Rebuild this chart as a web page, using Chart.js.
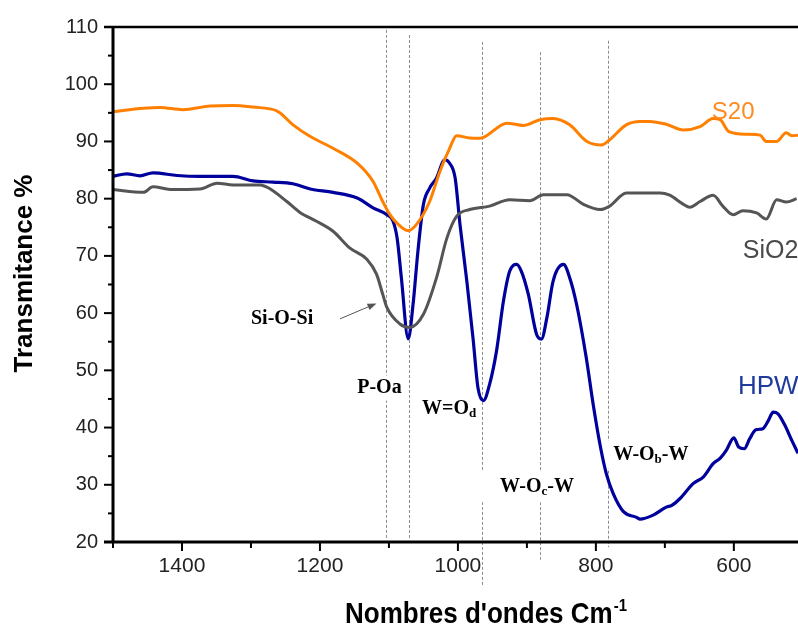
<!DOCTYPE html>
<html>
<head>
<meta charset="utf-8">
<title>Spectres IR - HPW, SiO2, S20</title>
<script src="https://cdn.jsdelivr.net/npm/chart.js@4.4.1/dist/chart.umd.min.js"></script>
<style>
html,body{margin:0;padding:0;background:#fff}
canvas{display:block}
</style>
</head>
<body>
<canvas id="irChart" width="798" height="628"></canvas>
<script>
/* ====================================
   DATA
==================================== */

// S20 (orange)
const s20Wn=[1500,1456,1432,1399,1359,1326,1297,1262,1239,1214,1181,1146,1123,1109,1099,1089,1072,1060,1041,1026,1012,1002,983,968,929,905,881,862,838,813,792,780,756,736,722,698,673,649,630,620,607,582,562,553,538,524,516,507]
const s20T=[95.2,95.8,95.95,95.55,96.2,96.3,96.0,95.3,92.9,90.85,88.8,86.2,83.0,79.5,77.3,75.8,74.4,75.5,79.5,84.8,88.8,91.0,90.6,90.55,93.2,92.8,93.8,94.0,92.9,90.0,89.4,90.3,92.9,93.5,93.5,93.0,92.0,92.6,94.0,93.8,91.7,91.25,91.1,90.0,90.0,91.5,91.0,91.1]

// SiO2 (grey)
const sio2Wn=[1500,1456,1442,1417,1374,1349,1326,1287,1272,1248,1229,1205,1181,1157,1132,1118,1109,1103,1084,1070,1050,1031,1016,1002,983,954,925,896,876,842,818,794,780,756,741,707,693,673,664,649,630,616,601,587,567,553,538,524,509]
const sio2T=[81.6,81.1,82.1,81.6,81.7,82.7,82.4,82.4,81.7,79.5,77.6,76.05,74.3,71.4,69.4,66.8,63.3,61.0,58.1,57.5,59.8,66.2,73.1,76.9,78.1,78.7,79.8,79.65,80.7,80.7,79.0,78.1,78.7,81.0,81.0,81.0,80.6,79.0,78.5,79.5,80.6,78.7,77.2,77.9,77.5,76.45,79.8,79.4,80.0]

// HPW (dark blue)
const hpwWn=[1500,1480,1461,1442,1407,1374,1326,1297,1268,1239,1214,1181,1146,1123,1103,1094,1088,1082,1072,1065,1058,1050,1041,1031,1019,1012,1004,997,987,978,971,963,954,944,934,925,915,908,898,886,879,871,862,847,838,828,814,804,794,785,775,760,741,736,717,698,690,678,659,644,630,620,611,600,593,585,577,568,558,550,543,536,526,516,507]
const hpwT=[83.9,84.35,84.0,84.5,84.05,83.9,83.9,83.1,82.9,82.6,81.7,81.1,80.1,78.4,77.2,76.05,73.0,66.2,55.5,61.55,70.8,79.0,81.85,83.6,86.8,86.2,83.6,75.5,65.5,55.5,47.0,44.7,47.6,53.4,62.1,67.3,68.5,67.3,63.3,56.3,55.45,59.2,65.6,68.5,66.2,61.55,52.25,44.1,37.0,32.0,28.5,25.3,24.3,24.0,24.7,26.1,26.4,27.6,30.2,31.4,33.7,34.6,36.0,38.2,36.6,36.3,38.05,39.6,39.8,41.2,42.7,42.4,40.4,37.75,35.5]

// axis ticks
const xTicks=[1400,1200,1000,800,600]
const xMinorTicks=[1500,1300,1100,900,700]
const yTicks=[20,30,40,50,60,70,80,90,100,110]
const yMinorTicks=[25,35,45,55,65,75,85,95,105]

// band markers (wavenumber, top and bottom of dotted line in %)
const bandWn=[1104,1071,965,881,782]
const bandTop=[109.5,108.6,107.4,105.6,107.6]
const bandBottom=[20.7,20.7,12.2,16.9,19.1]

// series names
const seriesNames=["S20","SiO2","HPW"]



/* ====================================
   LABEL PLACEMENT (data coordinates)
==================================== */

const bandLabels=[
{parts:[["Si-O-Si",0]],wn:1300,t:58.1},
{parts:[["P-Oa",0]],wn:1146,t:46.1,box:[6,17,6,8]},
{parts:[["W=O",0],["d",1]],wn:1052,t:42.45},
{parts:[["W-O",0],["c",1],["-W",0]],wn:939,t:28.7,box:[24,21,6,10]},
{parts:[["W-O",0],["b",1],["-W",0]],wn:775,t:34.4,box:[9,19,6,9]}
]

const nameLabels=[
{wn:632,t:94.0,color:"#ff8a1f",size:24},
{wn:587,t:69.6,color:"#4a4a4a",size:25},
{wn:594,t:45.9,color:"#1f3b9b",size:26}
]

// arrow pointing at the Si-O-Si band
const arrowFrom={wn:1171,t:59.0}
const arrowTo={wn:1118,t:61.7}


function toPoints(xs,ys){
return xs.map((v,i)=>({x:v,y:ys[i]}))
}

const sansFont="'Liberation Sans', Arial, sans-serif"
const serifFont="'Liberation Serif', 'Times New Roman', serif"


/* draw text with subscripts */
function drawParts(ctx,parts,x,y){
let cx=x
parts.forEach(p=>{
if(p[1]){
ctx.font="bold 13px "+serifFont
ctx.fillText(p[0],cx,y+3)
}else{
ctx.font="bold 20px "+serifFont
ctx.fillText(p[0],cx,y)
}
cx+=ctx.measureText(p[0]).width
})
return cx-x
}

function measureParts(ctx,parts){
let w=0
parts.forEach(p=>{
ctx.font=(p[1]?"bold 13px ":"bold 20px ")+serifFont
w+=ctx.measureText(p[0]).width
})
return w
}



/* ====================================
   PLUGIN: band lines, labels, frame
==================================== */

const irPlugin={
id:"irDecor",

beforeDatasetsDraw(chart){
const ctx=chart.ctx
const x=chart.scales.x
const y=chart.scales.y

// dotted band lines
ctx.save()
ctx.strokeStyle="#8c8c8c"
ctx.lineWidth=1
ctx.setLineDash([3,2])
bandWn.forEach((wn,i)=>{
const px=Math.round(x.getPixelForValue(wn))+0.5
ctx.beginPath()
ctx.moveTo(px,y.getPixelForValue(bandTop[i]))
ctx.lineTo(px,y.getPixelForValue(bandBottom[i]))
ctx.stroke()
})
ctx.restore()

// white boxes behind band labels
ctx.save()
ctx.fillStyle="#fff"
bandLabels.forEach(l=>{
if(!l.box)return
const lx=x.getPixelForValue(l.wn)
const ly=y.getPixelForValue(l.t)
const w=measureParts(ctx,l.parts)
ctx.fillRect(lx-l.box[0],ly-l.box[1],w+l.box[0]+l.box[2],l.box[1]+l.box[3])
})
ctx.restore()
},

afterDatasetsDraw(chart){
const ctx=chart.ctx
const x=chart.scales.x
const y=chart.scales.y
const a=chart.chartArea

ctx.save()

// band labels
ctx.fillStyle="#000"
ctx.textBaseline="alphabetic"
ctx.textAlign="left"
bandLabels.forEach(l=>{
drawParts(ctx,l.parts,x.getPixelForValue(l.wn),y.getPixelForValue(l.t))
})

// arrow
const x1=x.getPixelForValue(arrowFrom.wn),y1=y.getPixelForValue(arrowFrom.t)
const x2=x.getPixelForValue(arrowTo.wn),y2=y.getPixelForValue(arrowTo.t)
const ang=Math.atan2(y2-y1,x2-x1)
ctx.strokeStyle="#555"
ctx.fillStyle="#555"
ctx.lineWidth=1
ctx.beginPath()
ctx.moveTo(x1,y1)
ctx.lineTo(x2-7*Math.cos(ang),y2-7*Math.sin(ang))
ctx.stroke()
ctx.beginPath()
ctx.moveTo(x2,y2)
ctx.lineTo(x2-9*Math.cos(ang)+3.5*Math.sin(ang),y2-9*Math.sin(ang)-3.5*Math.cos(ang))
ctx.lineTo(x2-9*Math.cos(ang)-3.5*Math.sin(ang),y2-9*Math.sin(ang)+3.5*Math.cos(ang))
ctx.closePath()
ctx.fill()

// series names
nameLabels.forEach((l,i)=>{
ctx.fillStyle=l.color
ctx.font=l.size+"px "+sansFont
ctx.fillText(seriesNames[i],x.getPixelForValue(l.wn),y.getPixelForValue(l.t))
})

// frame: left, bottom, top
ctx.strokeStyle="#000"
ctx.lineWidth=3
ctx.beginPath()
ctx.moveTo(a.left,a.top-1)
ctx.lineTo(a.left,a.bottom+1.5)
ctx.moveTo(a.left-9,a.bottom)
ctx.lineTo(a.right,a.bottom)
ctx.stroke()
ctx.lineWidth=2.5
ctx.beginPath()
ctx.moveTo(a.left-9,a.top)
ctx.lineTo(a.right,a.top)
ctx.stroke()

// y ticks
ctx.lineWidth=2
yTicks.forEach(v=>{
const py=y.getPixelForValue(v)
ctx.beginPath();ctx.moveTo(a.left-9,py);ctx.lineTo(a.left,py);ctx.stroke()
})
yMinorTicks.forEach(v=>{
const py=y.getPixelForValue(v)
ctx.beginPath();ctx.moveTo(a.left-5,py);ctx.lineTo(a.left,py);ctx.stroke()
})

// x ticks
xTicks.forEach(v=>{
const px=x.getPixelForValue(v)
ctx.beginPath();ctx.moveTo(px,a.bottom);ctx.lineTo(px,a.bottom+9);ctx.stroke()
})
xMinorTicks.forEach(v=>{
const px=x.getPixelForValue(v)
ctx.beginPath();ctx.moveTo(px,a.bottom);ctx.lineTo(px,a.bottom+6);ctx.stroke()
})

// y axis title
ctx.fillStyle="#000"
ctx.font="bold 26px "+sansFont
ctx.textAlign="center"
ctx.translate(32,(a.top+a.bottom)/2-11)
ctx.rotate(-Math.PI/2)
ctx.fillText("Transmitance %",0,0)
ctx.restore()

// x axis title with superscript
ctx.save()
ctx.fillStyle="#000"
ctx.font="bold 26px "+sansFont
const main="Nombres d'ondes Cm"
const mw=ctx.measureText(main).width
ctx.font="bold 15px "+sansFont
const sw=ctx.measureText("-1").width
const startX=(a.left+a.right)/2-(mw+sw)/2+30
ctx.translate(startX,623)
ctx.scale(1,1.1)
ctx.font="bold 26px "+sansFont
ctx.textAlign="left"
ctx.fillText(main,0,0)
ctx.font="bold 15px "+sansFont
ctx.fillText("-1",mw+1,-11)
ctx.restore()
}
}



/* ====================================
   CHART
==================================== */

new Chart(document.getElementById("irChart"),{

type:"line",

data:{
datasets:[
{label:seriesNames[0],data:toPoints(s20Wn,s20T),borderColor:"#ff8000",borderWidth:3,pointRadius:0,cubicInterpolationMode:"monotone"},
{label:seriesNames[1],data:toPoints(sio2Wn,sio2T),borderColor:"#555555",borderWidth:3,pointRadius:0,cubicInterpolationMode:"monotone"},
{label:seriesNames[2],data:toPoints(hpwWn,hpwT),borderColor:"#00009c",borderWidth:3.2,pointRadius:0,cubicInterpolationMode:"monotone"}
]
},

options:{
responsive:false,
animation:false,
devicePixelRatio:1,
layout:{padding:{top:25,left:0,right:0,bottom:0}},
plugins:{legend:{display:false},tooltip:{enabled:false}},
scales:{
x:{
type:"linear",
reverse:true,
min:507,
max:1500,
afterFit:s=>{s.height=86},
afterBuildTicks:s=>{s.ticks=xTicks.map(v=>({value:v}))},
grid:{display:false,drawTicks:false},
border:{display:false},
ticks:{font:{family:sansFont,size:21},color:"#222",padding:12,maxRotation:0,autoSkip:false,callback:v=>String(v)}
},
y:{
type:"linear",
min:20,
max:110,
afterFit:s=>{s.width=113},
afterBuildTicks:s=>{s.ticks=yTicks.map(v=>({value:v}))},
grid:{display:false,drawTicks:false},
border:{display:false},
ticks:{font:{family:sansFont,size:20},color:"#222",padding:15,callback:v=>String(v)}
}
}
},

plugins:[irPlugin]

})
</script>
</body>
</html>
